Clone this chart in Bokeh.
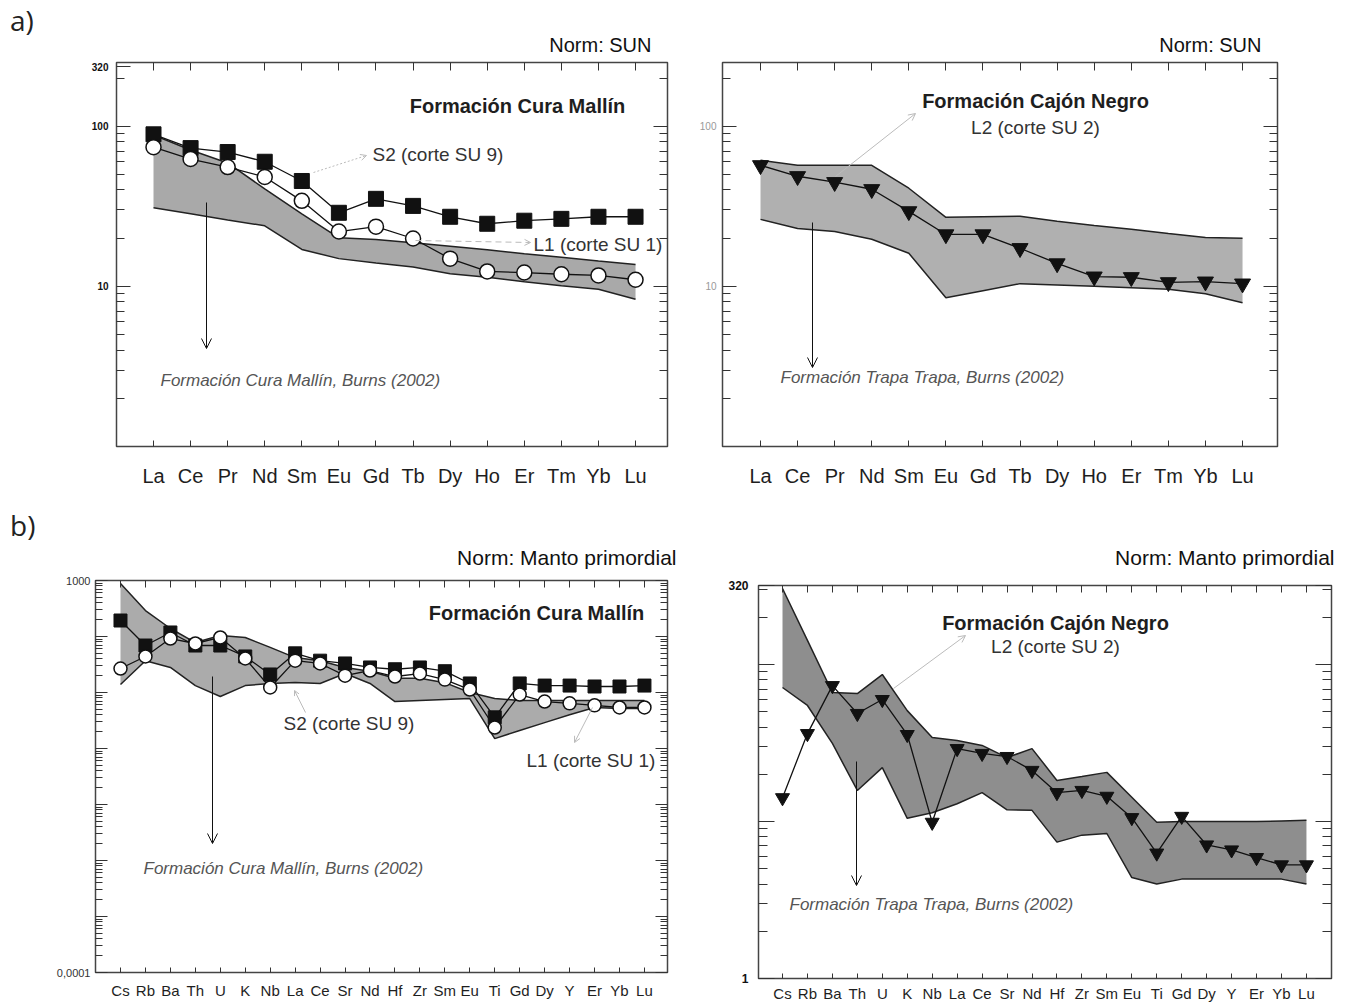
import numpy as np
from bokeh.plotting import figure
from bokeh.models import (Range1d, LogAxis, LinearAxis, FixedTicker, Label, Arrow, OpenHead,
                          LogScale, Title, Div, CustomLabelingPolicy)
from bokeh.layouts import column, row
from bokeh.embed import file_html
from bokeh.resources import INLINE

# ---------------- data ----------------
REE = ["La", "Ce", "Pr", "Nd", "Sm", "Eu", "Gd", "Tb", "Dy", "Ho", "Er", "Tm", "Yb", "Lu"]
SPIDER = ["Cs", "Rb", "Ba", "Th", "U", "K", "Nb", "La", "Ce", "Sr", "Nd", "Hf", "Zr",
          "Sm", "Eu", "Ti", "Gd", "Dy", "Y", "Er", "Yb", "Lu"]

# a) left : Formacion Cura Mallin, REE normalised to SUN
cm_ree_s2 = [89, 73, 69, 60, 45.5, 28.8, 35.2, 31.8, 27.2, 24.6, 25.7, 26.4, 27.2, 27.2]
cm_ree_l1 = [74, 62.4, 55.6, 48.2, 34.2, 22.0, 23.6, 19.9, 14.9, 12.4, 12.2, 11.9, 11.7, 11.0]
cm_ree_upper = [88, 71, 59, 40.6, 28.4, 20.1, 19.6, 18.7, 17.8, 16.9, 16.0, 15.2, 14.4, 13.7]
cm_ree_lower = [31, 28.4, 26, 23.9, 17, 14.9, 14.0, 13.2, 12.0, 11.4, 10.7, 10.1, 9.6, 8.3]

# a) right : Formacion Cajon Negro, REE normalised to SUN
cn_ree_l2 = [57, 48.7, 44.7, 40.4, 29.4, 21.1, 21.1, 17.3, 13.9, 11.5, 11.4, 10.6, 10.7, 10.4]
cn_ree_upper = [61.3, 57, 57, 57, 41, 27, 27.2, 27.4, 25.5, 24, 22.7, 21.4, 20.2, 20]
cn_ree_lower = [26.2, 23, 22, 19.7, 16.1, 8.5, 9.4, 10.4, 10.2, 10, 9.8, 9.6, 9.0, 7.9]

# b) left : Formacion Cura Mallin, primordial mantle normalised
cm_sp_s2 = [193, 69, 118, 69, 69, 44, 21, 50, 37, 33, 28, 26, 28, 24, 14.5, 3.6,
            14.5, 13.3, 13.3, 12.8, 12.8, 13.3]
cm_sp_l1 = [26.8, 44, 92, 75, 96, 40.5, 12.3, 37, 33, 20, 24.7, 19.3, 21.8, 17, 11.3, 2.37,
            9.2, 6.9, 6.4, 5.9, 5.4, 5.4]
cm_sp_upper = [884, 291, 139, 78, 104, 96, 64, 42, 37, 28, 24, 18, 18, 15, 10, 7.8,
               7.2, 7.2, 7.2, 7.2, 7.2, 7.2]
cm_sp_lower = [13.9, 37, 28, 13.3, 8.5, 13.3, 14.5, 15.1, 14.5, 21.8, 14.5, 6.9, 7.2, 7.5, 7.8, 1.5,
               2.1, 2.9, 4.0, 5.4, 5.2, 5.2]

# b) right : Formacion Cajon Negro, primordial mantle normalised
cn_sp_l2 = [14.2, 36.4, 73.6, 48.9, 60, 35.9, 9.9, 29.2, 27.2, 26, 21.2, 15.3, 15.8, 14.5, 10.6, 6.3,
            10.8, 7.1, 6.6, 5.9, 5.3, 5.3]
cn_sp_upper = [306, 143, 66.5, 65.5, 86.6, 51, 34.4, 32.9, 30.6, 25.6, 29.2, 18.3, 19.4, 20.6, 14.3, 9.9,
               10, 10, 10, 10, 10.1, 10.2]
cn_sp_lower = [71.6, 55, 31.5, 15.8, 22.1, 10.5, 11.4, 13, 15.3, 11.9, 11.8, 7.4, 8.2, 8.4, 4.4, 4.0,
               4.3, 4.3, 4.3, 4.3, 4.3, 4.0]

# axis tick values and tick labels
ree_major_left = [10, 100, 236]
ree_labels_left = {10: "10", 100: "100", 236: "320"}
ree_major = [10, 100]
ree_labels = {10: "10", 100: "100"}
ree_minor = [2, 3, 4, 5, 6, 7, 8, 9, 20, 30, 40, 50, 60, 70, 80, 90, 200]
pm_major = [1e-4, 1e-3, 1e-2, 1e-1, 1, 10, 100, 1000]
pm_labels = {1e-4: "0,0001", 1000: "1000"}
pm_keep = [0, 7]
pm_minor = [k * 10.0 ** d for d in range(-4, 3) for k in range(2, 10)]
cn_pm_major = [1, 10, 100, 320]
cn_pm_labels = {1: "1", 320: "320"}
cn_pm_keep = [0, 3]
cn_pm_minor = [2, 3, 4, 5, 6, 7, 8, 9, 20, 30, 40, 50, 60, 70, 80, 90, 200, 300]

FONT = "Liberation Sans"
TICK = "#333333"


def make_fig(ox, oy, w, h, frame, xr, yr):
    L, T, R, B = frame
    p = figure(width=w, height=h, x_range=Range1d(*xr), y_range=Range1d(*yr),
               y_axis_type="log", x_axis_location=None, y_axis_location=None,
               toolbar_location=None, output_backend="svg", title=None,
               min_border_left=L - ox, min_border_right=ox + w - R,
               min_border_top=T - oy, min_border_bottom=oy + h - B)
    p.y_scale = LogScale()
    p.grid.visible = False
    p.outline_line_color = "#444444"
    p.outline_line_width = 1.5
    p.background_fill_color = "white"
    p.border_fill_color = "white"
    return p, dict(frame=frame, xr=xr, yr=yr)


def X(info, px):
    L, T, R, B = info["frame"]
    x0, x1 = info["xr"]
    return x0 + (px - L) / (R - L) * (x1 - x0)


def Y(info, py):
    L, T, R, B = info["frame"]
    l0, l1 = np.log10(info["yr"][0]), np.log10(info["yr"][1])
    return 10 ** (l1 - (py - T) / (B - T) * (l1 - l0))


def label(p, info, px, py, text, size, align="left", style="normal", color="#1e1e1e", font=FONT):
    p.add_layout(Label(x=float(X(info, px)), y=float(Y(info, py)), text=text, text_font=font,
                       text_font_size=f"{size}px", text_font_style=style, text_color=color,
                       text_align=align, text_baseline="middle"))


def arrow(p, info, x0, y0, x1, y1, color="#111111", width=1.0, dash="solid", head=10):
    p.add_layout(Arrow(end=OpenHead(size=head, line_color=color, line_width=width),
                       x_start=float(X(info, x0)), y_start=float(Y(info, y0)),
                       x_end=float(X(info, x1)), y_end=float(Y(info, y1)),
                       line_color=color, line_width=width, line_dash=dash))


def norm_title(p, text, size, offset, standoff):
    p.add_layout(Title(text=text, align="right", offset=offset, standoff=standoff,
                       text_font=FONT, text_font_size=f"{size}px", text_font_style="normal",
                       text_color="#111111"), "above")


def hide_labels(ax):
    ax.major_label_text_color = None
    ax.major_label_text_font_size = "1px"
    ax.major_label_standoff = 0


def add_axes(p, names, xsize, xstandoff, top_in, bot_in,
             lticks, rticks, yminor, overrides, keep, ysize, ystyle, ycolor, ystandoff,
             maj_in, min_in):
    xt = list(range(len(names)))
    bottom = LinearAxis(ticker=FixedTicker(ticks=xt),
                        major_label_overrides={i: nm for i, nm in enumerate(names)})
    bottom.axis_line_color = None
    bottom.major_tick_in = bot_in
    bottom.major_tick_out = 0
    bottom.major_tick_line_color = TICK
    bottom.major_label_text_font = FONT
    bottom.major_label_text_font_size = f"{xsize}px"
    bottom.major_label_text_color = "#1e1e1e"
    bottom.major_label_standoff = xstandoff
    p.add_layout(bottom, "below")

    top = LinearAxis(ticker=FixedTicker(ticks=xt))
    top.axis_line_color = None
    top.major_tick_in = top_in
    top.major_tick_out = 0
    top.major_tick_line_color = TICK
    hide_labels(top)
    p.add_layout(top, "above")

    for loc, ticks in (("left", lticks), ("right", rticks)):
        ax = LogAxis(ticker=FixedTicker(ticks=ticks, minor_ticks=yminor))
        ax.axis_line_color = None
        ax.major_tick_in = maj_in
        ax.major_tick_out = 0
        ax.minor_tick_in = min_in
        ax.minor_tick_out = 0
        ax.major_tick_line_color = TICK
        ax.minor_tick_line_color = TICK
        if loc == "left":
            ax.major_label_overrides = overrides
            ax.major_label_text_font = FONT
            ax.major_label_text_font_size = f"{ysize}px"
            ax.major_label_text_font_style = ystyle
            ax.major_label_text_color = ycolor
            ax.major_label_standoff = ystandoff
            if keep is not None:
                ax.major_label_policy = CustomLabelingPolicy(args=dict(keep=keep), code="""
                    for (const i of Array.from(indices)) {
                        if (!keep.includes(i)) indices.unset(i)
                    }
                    return indices
                """)
        else:
            hide_labels(ax)
        p.add_layout(ax, loc)


def band(p, x, lo, hi, color):
    p.varea(x=x, y1=lo, y2=hi, fill_color=color)
    p.line(x, lo, line_color="#222222", line_width=1.5)
    p.line(x, hi, line_color="#222222", line_width=1.5)


def panel_letter(text, height, pad_top):
    html = (f'<div style="padding:{pad_top}px 0 0 10px;font-family:\'Open Sans\';font-size:28px;'
            'line-height:1;color:#222222">' + text + '</div>')
    return Div(text=html, width=40, height=height, styles={"margin": "0", "padding": "0",
                                                           "overflow": "hidden"})


xr_ree = np.arange(len(REE))
xr_sp = np.arange(len(SPIDER))

# ---------------- a) left ----------------
pa1, ia1 = make_fig(40, 0, 650, 492, (116, 62, 667, 446), (-0.998, 13.862), (1, 250))
add_axes(pa1, REE, 20, 18, 8, 6, ree_major_left, ree_major, ree_minor, ree_labels_left, None,
         10, "bold", "#111111", 8, 14, 8)
norm_title(pa1, "Norm: SUN", 20, 16, 13)
band(pa1, xr_ree, cm_ree_lower, cm_ree_upper, "#a9a9a9")
pa1.line(xr_ree, cm_ree_s2, line_color="#111111", line_width=1.3)
pa1.line(xr_ree, cm_ree_l1, line_color="#111111", line_width=1.3)
pa1.scatter(xr_ree, cm_ree_s2, marker="square", size=15, fill_color="#111111", line_color="#111111")
pa1.scatter(xr_ree, cm_ree_l1, marker="circle", size=15, fill_color="white", line_color="#111111", line_width=1.5)
label(pa1, ia1, 517, 105, "Formación Cura Mallín", 20, align="center", style="bold")
label(pa1, ia1, 372, 154, "S2 (corte SU 9)", 19, color="#333333")
label(pa1, ia1, 533, 244, "L1 (corte SU 1)", 19, color="#333333")
label(pa1, ia1, 160, 380, "Formación Cura Mallín, Burns (2002)", 17, style="italic", color="#555555")
arrow(pa1, ia1, 206, 202, 206, 348)
arrow(pa1, ia1, 313, 172, 366, 155, color="#bbbbbb", dash="2 2", head=6)
arrow(pa1, ia1, 415, 240, 530, 242, color="#bbbbbb", dash="6 4", head=6)

# ---------------- a) right ----------------
pa2, ia2 = make_fig(690, 0, 655, 492, (722, 62, 1277, 446), (-1.025, 13.943), (1, 250))
add_axes(pa2, REE, 20, 18, 8, 6, ree_major, ree_major, ree_minor, ree_labels, None,
         10, "normal", "#999999", 6, 14, 8)
norm_title(pa2, "Norm: SUN", 20, 16, 13)
band(pa2, xr_ree, cn_ree_lower, cn_ree_upper, "#b0b0b0")
pa2.line(xr_ree, cn_ree_l2, line_color="#111111", line_width=1.3)
pa2.scatter(xr_ree, cn_ree_l2, marker="inverted_triangle", size=16, fill_color="#111111", line_color="#111111")
label(pa2, ia2, 1035, 100, "Formación Cajón Negro", 20, align="center", style="bold")
label(pa2, ia2, 1035, 127, "L2 (corte SU 2)", 19, align="center", color="#333333")
label(pa2, ia2, 780, 377, "Formación Trapa Trapa, Burns (2002)", 17, style="italic", color="#555555")
arrow(pa2, ia2, 812, 222, 812, 367)
arrow(pa2, ia2, 835, 176, 915, 113, color="#bbbbbb", head=7)

# ---------------- b) left ----------------
pb1, ib1 = make_fig(40, 492, 650, 512, (95, 580, 667, 972), (-1.002, 21.924), (1e-4, 1e3))
add_axes(pb1, SPIDER, 15, 9, 7, 5, pm_major, pm_major, pm_minor, pm_labels, pm_keep,
         11, "normal", "#333333", 5, 12, 7)
norm_title(pb1, "Norm: Manto primordial", 21, -9, 24)
band(pb1, xr_sp, cm_sp_lower, cm_sp_upper, "#ababab")
pb1.line(xr_sp, cm_sp_s2, line_color="#111111", line_width=1.3)
pb1.line(xr_sp, cm_sp_l1, line_color="#111111", line_width=1.3)
pb1.scatter(xr_sp, cm_sp_s2, marker="square", size=13, fill_color="#111111", line_color="#111111")
pb1.scatter(xr_sp, cm_sp_l1, marker="circle", size=13, fill_color="white", line_color="#111111", line_width=1.5)
label(pb1, ib1, 536, 612, "Formación Cura Mallín", 20, align="center", style="bold")
label(pb1, ib1, 283, 723, "S2 (corte SU 9)", 19, color="#333333")
label(pb1, ib1, 526, 760, "L1 (corte SU 1)", 19, color="#333333")
label(pb1, ib1, 143, 868, "Formación Cura Mallín, Burns (2002)", 17, style="italic", color="#555555")
arrow(pb1, ib1, 212, 676, 212, 843)
arrow(pb1, ib1, 305, 712, 294, 690, color="#bbbbbb", head=5)
arrow(pb1, ib1, 592, 707, 574, 742, color="#bbbbbb", head=6)

# ---------------- b) right ----------------
pb2, ib2 = make_fig(690, 492, 655, 512, (758, 585, 1331, 978), (-0.962, 22.004), (1, 320))
add_axes(pb2, SPIDER, 15, 6, 7, 5, cn_pm_major, cn_pm_major, cn_pm_minor, cn_pm_labels, cn_pm_keep,
         12, "bold", "#111111", 10, 16, 9)
norm_title(pb2, "Norm: Manto primordial", 21, -3, 34)
band(pb2, xr_sp, cn_sp_lower, cn_sp_upper, "#8e8e8e")
pb2.line(xr_sp, cn_sp_l2, line_color="#111111", line_width=1.3)
pb2.scatter(xr_sp, cn_sp_l2, marker="inverted_triangle", size=14, fill_color="#111111", line_color="#111111")
label(pb2, ib2, 1055, 622, "Formación Cajón Negro", 20, align="center", style="bold")
label(pb2, ib2, 1055, 646, "L2 (corte SU 2)", 19, align="center", color="#333333")
label(pb2, ib2, 789, 904, "Formación Trapa Trapa, Burns (2002)", 17, style="italic", color="#555555")
arrow(pb2, ib2, 856, 761, 856, 885)
arrow(pb2, ib2, 893, 688, 965, 635, color="#bbbbbb", head=7)

layout = column(row(panel_letter("a)", 492, 6), pa1, pa2),
                row(panel_letter("b)", 512, 19), pb1, column(pb2)))
open("out.html", "w").write(file_html(layout, INLINE))
